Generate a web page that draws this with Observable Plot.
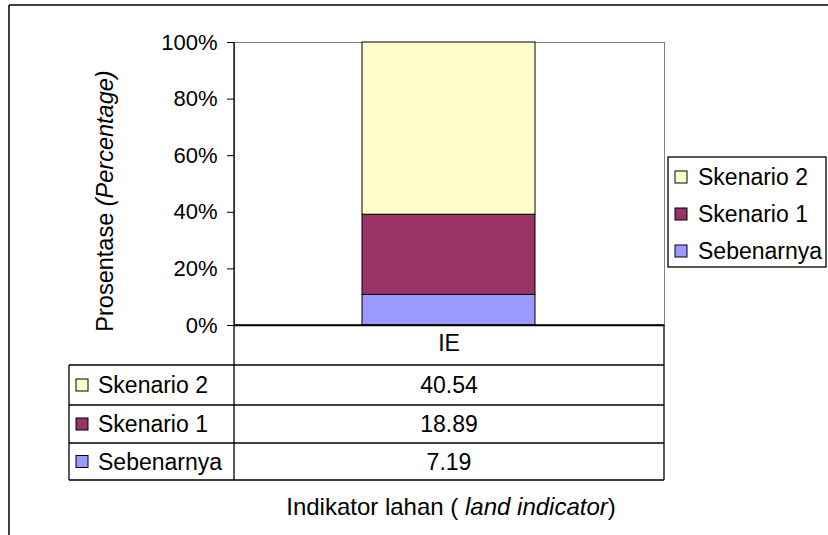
<!DOCTYPE html>
<html>
<head>
<meta charset="utf-8">
<script src="https://cdn.jsdelivr.net/npm/d3@7"></script>
<script src="https://cdn.jsdelivr.net/npm/@observablehq/plot@0.6"></script>
<style>
  html, body { margin: 0; padding: 0; background: #fff; }
  #chart { width: 828px; height: 535px; position: relative; overflow: hidden; }
</style>
</head>
<body>
<div id="chart"></div>
<script>
// ---- data ----
const indicators = ["IE"];
const series = ["Sebenarnya", "Skenario 1", "Skenario 2"];   // bottom -> top
const values = [7.19, 18.89, 40.54];
const colors = ["#9999FF", "#993366", "#FFFFCC"];
const yTicks = [0, 0.2, 0.4, 0.6, 0.8, 1];
const yTitle = ["Prosentase ", "(Percentage)"];
const xTitle = ["Indikator lahan ( ", "land indicator", ")"];

const data = series.map((s, i) => ({indicator: indicators[0], series: s, value: values[i]}));

const W = 828, H = 535;
const L = 234, R = 664, T = 42, B = 325;
const font = "'Liberation Sans', Arial, sans-serif";

const plot = Plot.plot({
  width: W,
  height: H,
  marginLeft: L,
  marginRight: W - R,
  marginTop: T,
  marginBottom: H - B,
  style: {fontFamily: font, fontSize: "22px", color: "black", background: "transparent", overflow: "visible"},
  x: {domain: indicators, padding: 0.424, label: null},
  y: {domain: [0, 1], label: null},
  color: {domain: series, range: colors},
  marks: [
    Plot.frame({stroke: "#808080", strokeWidth: 1}),
    Plot.barY(data, Plot.stackY({x: "indicator", y: "value", fill: "series", offset: "normalize", order: series, stroke: "black", strokeWidth: 1})),
    Plot.ruleY([0], {stroke: "black", strokeWidth: 1.3}),
    Plot.axisY(yTicks, {anchor: "left", tickSize: 7, tickPadding: 10, tickFormat: d3.format(".0%"), label: null, fontSize: 22}),
    Plot.axisX({anchor: "bottom", tickSize: 0, tickPadding: 9, label: null, fontSize: 23})
  ]
});

document.getElementById("chart").appendChild(plot);

// ---- decorations: frame, data table, legend, titles ----
const svg = d3.select(plot);
const g = svg.append("g").attr("font-family", font).attr("fill", "black").attr("text-anchor", "start");
const line = (x1, y1, x2, y2, c = "black", w = 1.3) =>
  g.append("line").attr("x1", x1).attr("y1", y1).attr("x2", x2).attr("y2", y2)
   .attr("stroke", c).attr("stroke-width", w);

// outer chart border (left & top visible)
line(9, 5, 9, H + 5, "black", 1.5);
line(9, 5, W + 5, 5, "black", 1.5);

// y axis line extended through table
line(L, T, L, 480);

// data table grid
const rowY = [325, 365, 405, 443, 480];
const tLeft = 69;
line(R, B, R, 480);
line(L, rowY[0], R, rowY[0]);
for (let i = 1; i < rowY.length; i++) line(tLeft, rowY[i], R, rowY[i]);
line(tLeft, rowY[1], tLeft, rowY[4]);

// rows: top-to-bottom reversed series order
const rows = series.map((s, i) => ({s, v: values[i], c: colors[i]})).reverse();
rows.forEach((r, i) => {
  const cy = (rowY[i + 1] + rowY[i + 2]) / 2;
  g.append("rect").attr("x", 76).attr("y", cy - 6).attr("width", 12).attr("height", 12)
    .attr("fill", r.c).attr("stroke", "black").attr("stroke-width", 1);
  g.append("text").attr("x", 98).attr("y", cy).attr("dy", "0.36em")
    .attr("text-anchor", "start").attr("font-size", 23).text(r.s);
  g.append("text").attr("x", (L + R) / 2).attr("y", cy).attr("dy", "0.36em")
    .attr("text-anchor", "middle").attr("font-size", 23).text(d3.format(".2f")(r.v));
});

// legend box
g.append("rect").attr("x", 668).attr("y", 157).attr("width", 158).attr("height", 110)
  .attr("fill", "white").attr("stroke", "black").attr("stroke-width", 1.3);
const legY = [177, 214, 251];
rows.forEach((r, i) => {
  g.append("rect").attr("x", 675).attr("y", legY[i] - 6).attr("width", 12).attr("height", 12)
    .attr("fill", r.c).attr("stroke", "black").attr("stroke-width", 1);
  g.append("text").attr("x", 698).attr("y", legY[i]).attr("dy", "0.36em")
    .attr("text-anchor", "start").attr("font-size", 23).text(r.s);
});

// y title
const yt = g.append("text").attr("transform", "translate(113,201) rotate(-90)")
  .attr("text-anchor", "middle").attr("font-size", 23.5);
yt.append("tspan").text(yTitle[0]);
yt.append("tspan").attr("font-style", "italic").text(yTitle[1]);

// x title
const xt = g.append("text").attr("x", 451).attr("y", 515)
  .attr("text-anchor", "middle").attr("font-size", 24);
xt.append("tspan").text(xTitle[0]);
xt.append("tspan").attr("font-style", "italic").text(xTitle[1]);
xt.append("tspan").text(xTitle[2]);
</script>
</body>
</html>
